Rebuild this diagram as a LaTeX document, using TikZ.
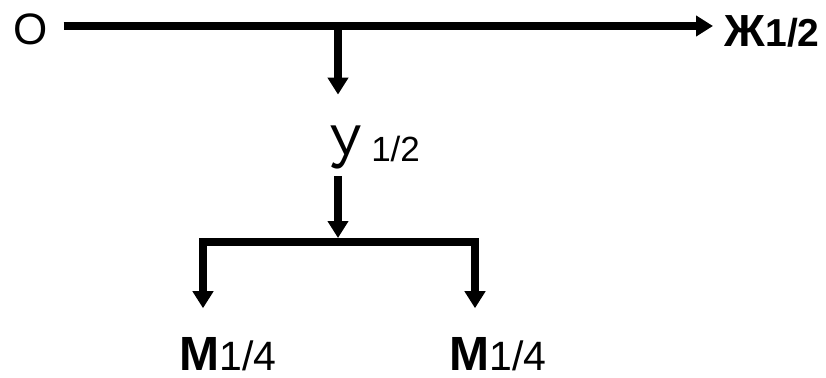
\documentclass[tikz,border=0pt]{standalone}
\usepackage{graphicx}
\usepackage{fontspec}
\setmainfont{Liberation Sans}
\usetikzlibrary{arrows.meta}
\newcommand{\fsz}[1]{\fontsize{#1}{#1}\selectfont}
\begin{document}
\begin{tikzpicture}[x=1pt,y=-1pt,line width=7.5pt,
  arr/.style={-{Triangle[width=20pt,length=17pt]}},
  lbl/.style={inner sep=0pt,anchor=base west}]
\useasboundingbox (0,0) rectangle (826,377);
% ================= Labels =================
\node[lbl] (o) at (10,45) {\fsz{44}О};
\node[lbl] (zh) at (721,47) {\bfseries\fsz{45}Ж\fsz{39}1/2};
\node[lbl] (u) at (326,168) {\scalebox{0.8}[1]{\fsz{62}У}\hspace{10pt}\raisebox{7pt}{\fsz{35}1/2}};
\node[lbl] (ml) at (176,370) {\bfseries\fsz{48}М\mdseries\fsz{41}1/4};
\node[lbl] (mr) at (446,370) {\bfseries\fsz{48}М\mdseries\fsz{41}1/4};
% ================= Connectors =================
\coordinate (split) at (338,26);
\coordinate (fork) at (338,242);
\coordinate (forkL) at (203,242);
\coordinate (forkR) at (475,242);
\draw[arr,shorten <=12pt,shorten >=8pt] (o.east |- split) -- (zh.west |- split);
\draw[arr,shorten >=27pt] (split) -- (split |- u.north);
\draw[arr,shorten <=4pt,shorten >=4pt] (split |- u.south) -- (fork);
\draw[arr,shorten >=25pt] (fork) -| (forkL |- ml.north);
\draw[arr,shorten >=25pt] (fork) -| (forkR |- mr.north);
\end{tikzpicture}
\end{document}
